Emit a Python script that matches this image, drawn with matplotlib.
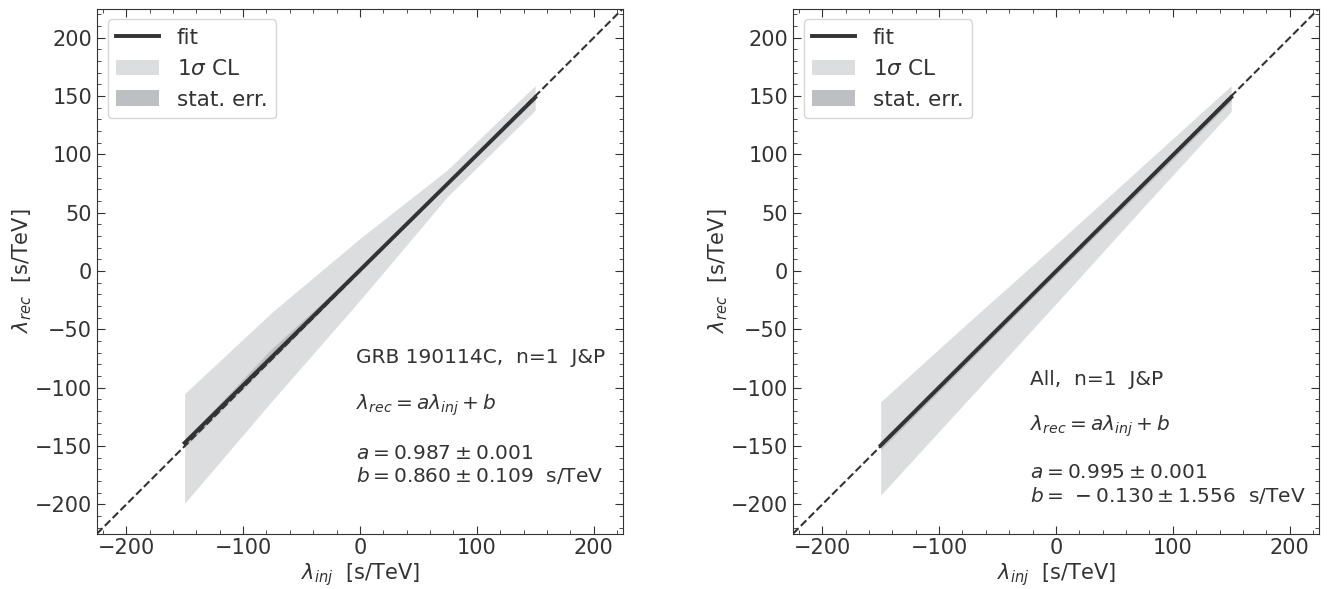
import numpy as np
import matplotlib.pyplot as plt

# injected lambda values where the bands were evaluated
lam_inj = [-150, -75, 0, 75, 150]

# left panel: GRB 190114C
grb_a, grb_b = 0.987, 0.860
grb_cl_hi = [-105, -35, 28, 87, 159]
grb_cl_lo = [-199, -111, -25, 64, 138]
grb_stat_hi = [-145, -66, 2.5, 76, 150]
grb_stat_lo = [-151, -76, -1, 74, 147]

# right panel: all GRBs
all_a, all_b = 0.995, -0.130
all_cl_hi = [-112, -44, 23, 91, 159]
all_cl_lo = [-192, -110, -28, 55, 137]
all_stat_hi = [-146, -71, 2.5, 76, 152]
all_stat_lo = [-153, -78, -3, 71, 146]

panels = [
    ("GRB 190114C,  n=1  J&P", grb_a, grb_b, grb_cl_lo, grb_cl_hi, grb_stat_lo, grb_stat_hi,
     r"$a = 0.987 \pm 0.001$", r"$b = 0.860 \pm 0.109$  s/TeV", -3, [-74, -115, -156, -175]),
    ("All,  n=1  J&P", all_a, all_b, all_cl_lo, all_cl_hi, all_stat_lo, all_stat_hi,
     r"$a = 0.995 \pm 0.001$", r"$b = \,-0.130 \pm 1.556$  s/TeV", -22, [-93, -133, -173, -192]),
]

plt.rcParams['font.family'] = ['DejaVu Sans']
fig = plt.figure(figsize=(13.38, 5.89), dpi=100)
ax_lefts = [0.0725, 0.5927]
txt_col = '#333333'

for (title, a, b, cl_lo, cl_hi, st_lo, st_hi, a_txt, b_txt, tx, ty), left in zip(panels, ax_lefts):
    ax = fig.add_axes([left, 0.094, 0.393, 0.8913])
    x = np.array(lam_inj)
    ax.fill_between(x, cl_lo, cl_hi, color='#dcdddf', lw=0, label=r'$1\sigma$ CL')
    ax.fill_between(x, st_lo, st_hi, color='#bebfc3', lw=0, label='stat. err.')
    ax.plot(x, a * x + b, color='#333333', lw=2.8, label='fit', zorder=3)
    ax.plot([-225, 225], [-225, 225], ls='--', color='#333333', lw=1.5, zorder=2)

    ax.set_xlim(-225, 225)
    ax.set_ylim(-225, 225)
    ax.set_xticks([-200, -100, 0, 100, 200])
    ax.set_yticks([-200, -150, -100, -50, 0, 50, 100, 150, 200])
    ax.set_xticks(np.arange(-220, 225, 20), minor=True)
    ax.set_yticks(np.arange(-220, 225, 10), minor=True)
    ax.tick_params(which='both', direction='in', top=True, right=True, colors='#333333',
                   labelcolor=txt_col)
    ax.tick_params(which='major', length=6, labelsize=15)
    ax.tick_params(which='minor', length=3)
    for s in ax.spines.values():
        s.set_color('#333333')

    ax.set_xlabel(r'$\lambda_{inj}$  [s/TeV]', fontsize=15, color=txt_col, labelpad=2)
    ax.set_ylabel(r'$\lambda_{rec}$  [s/TeV]', fontsize=15, color=txt_col, labelpad=1)

    handles, labels = ax.get_legend_handles_labels()
    order = [2, 0, 1]
    ax.legend([handles[i] for i in order], [labels[i] for i in order],
              loc='upper left', fontsize=15.5, labelcolor=txt_col)

    ax.text(tx, ty[0], title, fontsize=14.5, color=txt_col, va='center')
    ax.text(tx, ty[1], r'$\lambda_{rec} = a\lambda_{inj} + b$', fontsize=14.5, color=txt_col, va='center')
    ax.text(tx, ty[2], a_txt, fontsize=14.5, color=txt_col, va='center')
    ax.text(tx, ty[3], b_txt, fontsize=14.5, color=txt_col, va='center')

fig.savefig('out.png', dpi=100)
